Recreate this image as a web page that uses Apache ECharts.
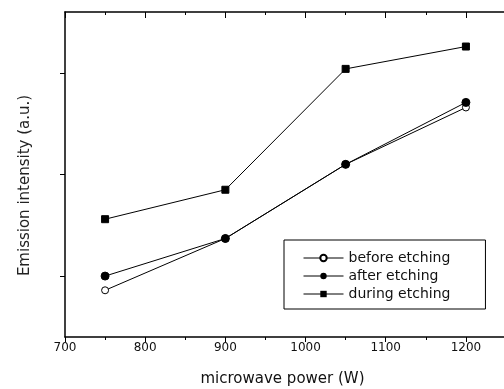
<!DOCTYPE html>
<html>
<head>
<meta charset="utf-8">
<script src="https://cdn.jsdelivr.net/npm/echarts@6/dist/echarts.min.js"></script>
<style>
  html, body { margin: 0; padding: 0; background: #fff; }
  #chart { width: 504px; height: 389px; }
</style>
</head>
<body>
<div id="chart"></div>
<script>
const power = [750, 900, 1050, 1200];
const beforeEtching = [0.86, 1.37, 2.10, 2.66];
const afterEtching = [1.00, 1.37, 2.10, 2.71];
const duringEtching = [1.56, 1.85, 3.04, 3.26];
const yTicks = [1, 2, 3];

const font = 'DejaVu Sans, Liberation Sans, sans-serif';
const chart = echarts.init(document.getElementById('chart'));

const pairs = ys => power.map((x, i) => [x, ys[i]]);

chart.setOption({
  animation: false,
  backgroundColor: '#fff',
  grid: { left: 65, top: 12, bottom: 52, right: -2, outerBoundsMode: 'none', containLabel: false },
  legend: {
    orient: 'vertical',
    left: 284,
    top: 240,
    padding: [11, 35, 8, 19],
    itemGap: 4,
    itemWidth: 40,
    itemHeight: 8,
    borderColor: '#000',
    borderWidth: 1,
    lineStyle: { width: 1 },
    textStyle: { fontFamily: font, fontSize: 14, color: '#111' },
    data: ['before etching', 'after etching', 'during etching']
  },
  xAxis: [{
    type: 'value',
    min: 700,
    max: 1250,
    interval: 100,
    name: 'microwave power (W)',
    nameLocation: 'middle',
    nameGap: 35,
    nameTextStyle: { fontFamily: font, fontSize: 15, color: '#111', padding: [0, 6, 0, 0] },
    axisLine: { lineStyle: { color: '#000', width: 1.5 } },
    axisTick: { length: 5, lineStyle: { color: '#000' } },
    minorTick: { show: true, splitNumber: 2, length: 3, lineStyle: { color: '#000' } },
    axisLabel: { fontFamily: font, fontSize: 12, color: '#111', margin: 5, showMaxLabel: false,
      formatter: v => String(v) },
    splitLine: { show: false }
  }, {
    type: 'value',
    position: 'top',
    min: 700,
    max: 1250,
    interval: 100,
    axisLine: { lineStyle: { color: '#000', width: 1.5 } },
    axisTick: { inside: true, length: 6, lineStyle: { color: '#000' } },
    minorTick: { show: true, splitNumber: 2, length: 3, lineStyle: { color: '#000' } },
    axisLabel: { show: false },
    splitLine: { show: false }
  }],
  yAxis: {
    type: 'value',
    min: 0.4,
    max: 3.6,
    name: 'Emission intensity (a.u.)',
    nameLocation: 'middle',
    nameGap: 32,
    nameTextStyle: { fontFamily: font, fontSize: 15, color: '#222', padding: [0, 22, 0, 0] },
    axisLine: { show: true, lineStyle: { color: '#000', width: 1.5 } },
    axisTick: { show: true, length: 5, customValues: yTicks, lineStyle: { color: '#000' } },
    axisLabel: { show: false },
    splitLine: { show: false }
  },
  series: [
    { name: 'before etching', type: 'line', data: pairs(beforeEtching),
      symbol: 'circle', symbolSize: 7,
      itemStyle: { color: '#fff', borderColor: '#000', borderWidth: 1 },
      lineStyle: { color: '#000', width: 1 } },
    { name: 'after etching', type: 'line', data: pairs(afterEtching),
      symbol: 'circle', symbolSize: 8,
      itemStyle: { color: '#000', borderColor: '#000' },
      lineStyle: { color: '#000', width: 1 } },
    { name: 'during etching', type: 'line', data: pairs(duringEtching),
      symbol: 'rect', symbolSize: 7,
      itemStyle: { color: '#000', borderColor: '#000' },
      lineStyle: { color: '#000', width: 1 } }
  ]
});
</script>
</body>
</html>
